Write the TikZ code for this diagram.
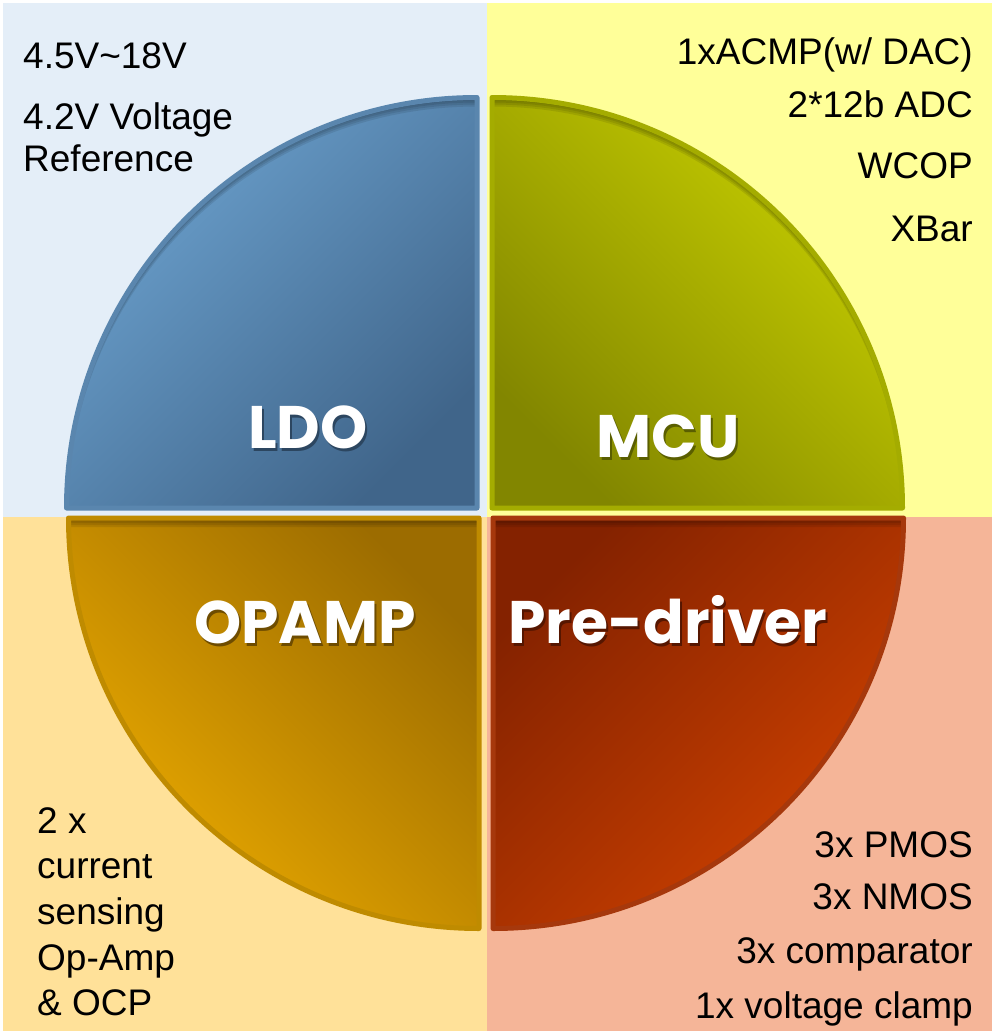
\documentclass[tikz,border=0pt]{standalone}
\usepackage{fontspec}
\setmainfont{Liberation Sans}
\newfontfamily\labelfont{Poppins}

\definecolor{bgLDO}{HTML}{E4EEF8}
\definecolor{bgMCU}{HTML}{FFFF99}
\definecolor{bgOPA}{HTML}{FFE199}
\definecolor{bgPRE}{HTML}{F5B598}
\definecolor{ldoLight}{HTML}{6CA2CF}
\definecolor{ldoDark}{HTML}{40658A}
\definecolor{ldoEdge}{HTML}{5A86AE}
\definecolor{ldoShadow}{HTML}{2C4660}
\definecolor{mcuLight}{HTML}{C8D000}
\definecolor{mcuDark}{HTML}{828600}
\definecolor{mcuEdge}{HTML}{A4AC00}
\definecolor{mcuShadow}{HTML}{5A5E00}
\definecolor{opaLight}{HTML}{ECAB00}
\definecolor{opaDark}{HTML}{9C6C00}
\definecolor{opaEdge}{HTML}{BF8B00}
\definecolor{opaShadow}{HTML}{6E4C00}
\definecolor{preLight}{HTML}{D04200}
\definecolor{preDark}{HTML}{842200}
\definecolor{preEdge}{HTML}{A6380C}
\definecolor{preShadow}{HTML}{561600}

% white title with a dark drop shadow set behind it
\newcommand{\shadowtitle}[2]{%
  \rlap{\kern2pt\raisebox{-3pt}{\textcolor{#1}{#2}}}#2}

\tikzset{
  x=1pt, y=-1pt,
  % the four quarter discs, corner at the centre of the chart
  ldoshape/.style={insert path={(477,508) -- (66.5,508) arc[start angle=180, end angle=270, radius=410.5] -- cycle}},
  mcushape/.style={insert path={(492,508) -- (492,97.5) arc[start angle=270, end angle=360, radius=410.5] -- cycle}},
  opashape/.style={insert path={(479,518) -- (479,928.5) arc[start angle=90, end angle=180, radius=410.5] -- cycle}},
  preshape/.style={insert path={(493,518) -- (903.5,518) arc[start angle=0, end angle=90, radius=410.5] -- cycle}},
  edge/.style={line width=5pt, line join=round, rounded corners=2pt},
  title/.style={font=\labelfont\bfseries\fontsize{60}{60}\selectfont, text=white, inner sep=0pt, anchor=base},
  note/.style={font=\fontsize{37}{37}\selectfont, inner sep=0pt},
  notel/.style={note, anchor=base west},
  noter/.style={note, anchor=base east},
}

% soft inner shadow along the upper edge of a quarter disc
\newcommand{\innershade}[1]{%
  \begin{scope}
    \clip[#1];
    \foreach \s in {3,5,7,9} {
      \fill[black, opacity=0.09, even odd rule, shift={(0,\s)}]
        (-100,-100) rectangle (1200,1200) [#1];
    }
  \end{scope}}

\begin{document}
\begin{tikzpicture}
  \useasboundingbox (0,0) rectangle (993,1031);
  \fill[white] (0,0) rectangle (993,1031);

  % quadrant backgrounds
  \fill[bgLDO] (3,3) rectangle (487,517);
  \fill[bgMCU] (487,3) rectangle (992,517);
  \fill[bgOPA] (3,517) rectangle (487,1031);
  \fill[bgPRE] (487,517) rectangle (992,1031);

  % LDO
  \shade[ldoshape, top color=ldoLight, bottom color=ldoDark, shading angle=45];
  \innershade{ldoshape}
  \draw[ldoshape, edge, draw=ldoEdge];
  % MCU
  \shade[mcushape, top color=mcuLight, bottom color=mcuDark, shading angle=-45];
  \innershade{mcushape}
  \draw[mcushape, edge, draw=mcuEdge];
  % OPAMP
  \shade[opashape, top color=opaDark, bottom color=opaLight, shading angle=-45];
  \innershade{opashape}
  \draw[opashape, edge, draw=opaEdge];
  % Pre-driver
  \shade[preshape, top color=preDark, bottom color=preLight, shading angle=45];
  \innershade{preshape}
  \draw[preshape, edge, draw=preEdge];

  % block titles
  \node[title] (ldo) at (308,448) {\shadowtitle{ldoShadow}{LDO}};
  \node[title] (mcu) at (668,457) {\shadowtitle{mcuShadow}{MCU}};
  \node[title] (opa) at (305,643) {\shadowtitle{opaShadow}{OPAMP}};
  \node[title] (pre) at (668,643) {\shadowtitle{preShadow}{Pre-driver}};

  % LDO features
  \node[notel] (l1) at (23,68) {4.5V\textasciitilde 18V};
  \node[notel] (l2) at (23,129) {4.2V Voltage};
  \node[notel] (l3) at (23,171) {Reference};

  % MCU features
  \node[noter] (m1) at (973,64) {1xACMP(w/ DAC)};
  \node[noter] (m2) at (973,117) {2*12b ADC};
  \node[noter] (m3) at (973,178) {WCOP};
  \node[noter] (m4) at (973,241) {XBar};

  % OPAMP features
  \node[notel] (o1) at (37,833) {2 x};
  \node[notel] (o2) at (37,878) {current};
  \node[notel] (o3) at (37,924) {sensing};
  \node[notel] (o4) at (37,970) {Op-Amp};
  \node[notel] (o5) at (37,1015) {\& OCP};

  % Pre-driver features
  \node[noter] (p1) at (973,857) {3x PMOS};
  \node[noter] (p2) at (973,909) {3x NMOS};
  \node[noter] (p3) at (973,963) {3x comparator};
  \node[noter] (p4) at (973,1018) {1x voltage clamp};
\end{tikzpicture}
\end{document}
